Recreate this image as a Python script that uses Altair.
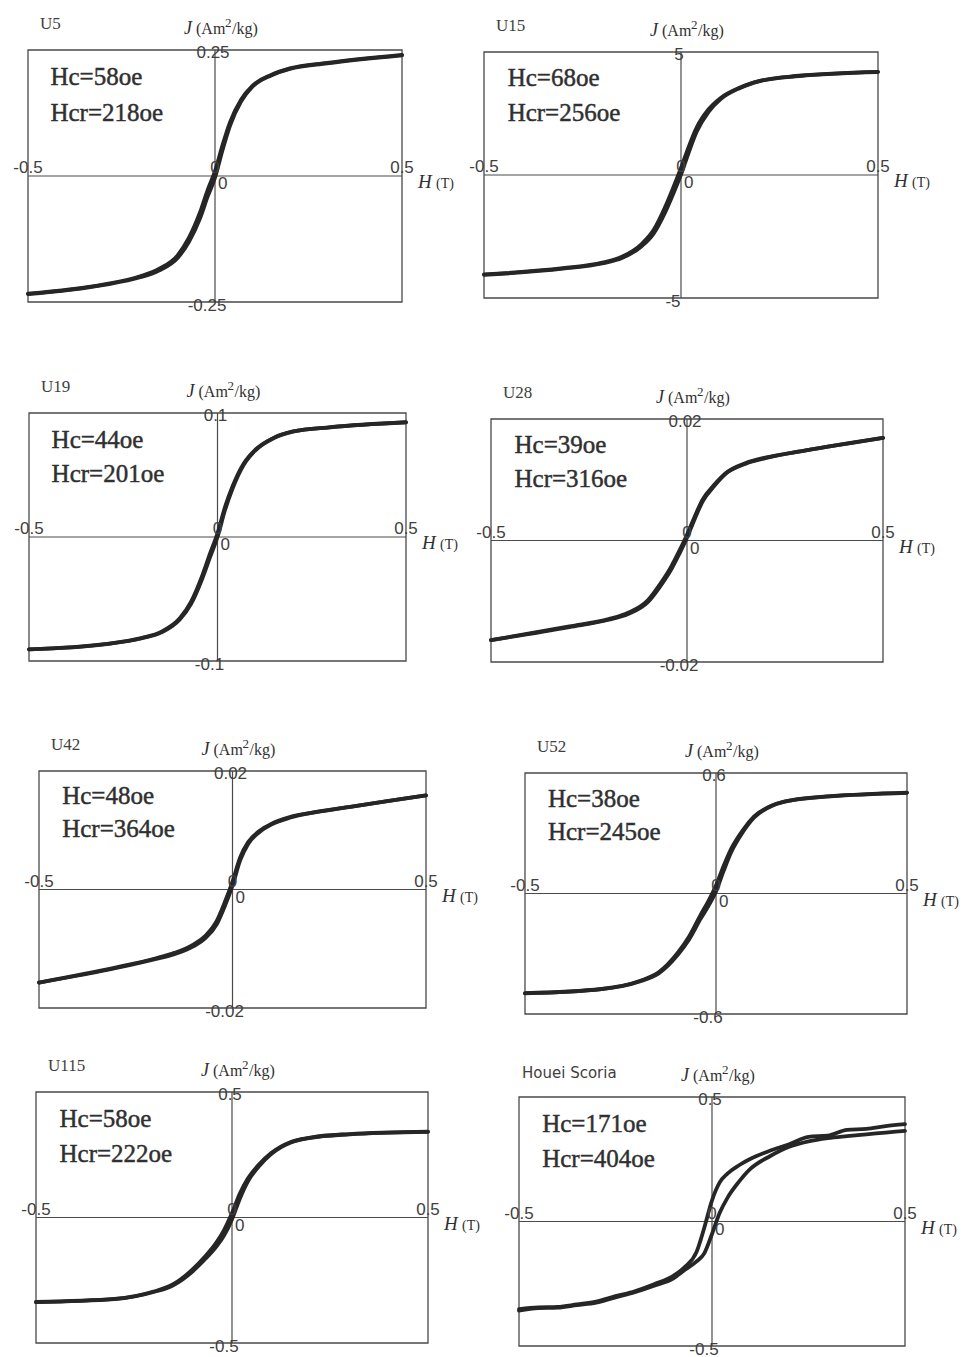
import altair as alt
import pandas as pd

# ---------------- data ----------------
H_GRID = [-0.5, -0.3, -0.2, -0.15, -0.1, -0.07, -0.04, -0.02, 0.0, 0.02, 0.04,
          0.07, 0.1, 0.15, 0.2, 0.3, 0.5]
H_HOUEI = [-0.5, -0.45, -0.4, -0.35, -0.3, -0.25, -0.2, -0.15, -0.1, -0.07, -0.04,
           -0.02, 0.0, 0.02, 0.04, 0.07, 0.1, 0.15, 0.2, 0.25, 0.3, 0.35, 0.4, 0.45, 0.5]

NAMES = ["U5", "U15", "U19", "U28", "U42", "U52", "U115", "Houei Scoria"]
J_MAX = [0.25, 5, 0.1, 0.02, 0.02, 0.6, 0.5, 0.5]
TOP_LABELS = ["0.25", "5", "0.1", "0.02", "0.02", "0.6", "0.5", "0.5"]
BOTTOM_LABELS = ["-0.25", "-5", "-0.1", "-0.02", "-0.02", "-0.6", "-0.5", "-0.5"]
HC = ["Hc=58oe", "Hc=68oe", "Hc=44oe", "Hc=39oe", "Hc=48oe", "Hc=38oe", "Hc=58oe", "Hc=171oe"]
HCR = ["Hcr=218oe", "Hcr=256oe", "Hcr=201oe", "Hcr=316oe", "Hcr=364oe", "Hcr=245oe",
       "Hcr=222oe", "Hcr=404oe"]

# upper (descending-field) and lower (ascending-field) branches, J in Am2/kg
U5_UP = [-0.2335, -0.2155, -0.199, -0.1845, -0.1575, -0.123, -0.072, -0.0285, 0.0095, 0.061,
         0.1065, 0.152, 0.179, 0.2005, 0.2135, 0.2245, 0.2405]
U5_LO = [-0.2345, -0.2165, -0.201, -0.1875, -0.1625, -0.131, -0.084, -0.0415, -0.0035, 0.051,
         0.0995, 0.148, 0.177, 0.1995, 0.2125, 0.2235, 0.2395]
U15_UP = [-4.04, -3.79, -3.565, -3.325, -2.805, -2.25, -1.29, -0.525, 0.285, 1.165, 1.935,
          2.67, 3.125, 3.56, 3.825, 4.035, 4.195]
U15_LO = [-4.06, -3.81, -3.595, -3.375, -2.895, -2.39, -1.51, -0.775, 0.015, 0.935, 1.765,
          2.57, 3.075, 3.54, 3.815, 4.025, 4.185]
U19_UP = [-0.09055, -0.0864, -0.08135, -0.0765, -0.0655, -0.0521, -0.03075, -0.0135, 0.0030,
          0.02425, 0.0409, 0.0595, 0.0703, 0.08015, 0.0851, 0.08855, 0.09255]
U19_LO = [-0.09065, -0.0866, -0.08165, -0.0771, -0.0665, -0.0539, -0.03325, -0.0165, 0.0000,
          0.02175, 0.0391, 0.0585, 0.0697, 0.07985, 0.0849, 0.08845, 0.09245]
U28_UP = [-0.0164, -0.01415, -0.01295, -0.0119, -0.00985, -0.0073, -0.00425, -0.00175, 0.00095,
          0.0040, 0.00675, 0.0092, 0.01115, 0.01275, 0.01365, 0.0148, 0.0169]
U28_LO = [-0.0164, -0.01425, -0.01305, -0.0121, -0.01015, -0.0077, -0.00475, -0.00225, 0.00045,
          0.0036, 0.00645, 0.0090, 0.01105, 0.01265, 0.01355, 0.0148, 0.0169]
U42_UP = [-0.0157, -0.01315, -0.01165, -0.0107, -0.00925, -0.0078, -0.0052, -0.00215, 0.00135,
          0.00545, 0.00795, 0.0099, 0.01105, 0.01225, 0.0129, 0.0139, 0.0159]
U42_LO = [-0.0157, -0.01325, -0.01175, -0.0109, -0.00955, -0.0082, -0.0058, -0.00285, 0.00065,
          0.00495, 0.00765, 0.0097, 0.01095, 0.01215, 0.0129, 0.0139, 0.0159]
U52_UP = [-0.4965, -0.4755, -0.436, -0.3925, -0.295, -0.2125, -0.105, -0.0375, 0.040, 0.1375,
          0.2235, 0.315, 0.3835, 0.441, 0.4655, 0.4845, 0.5025]
U52_LO = [-0.4975, -0.4765, -0.438, -0.3975, -0.305, -0.2275, -0.125, -0.0625, 0.010, 0.1125,
          0.2065, 0.305, 0.3785, 0.439, 0.4645, 0.4835, 0.5015]
U115_UP = [-0.3365, -0.3245, -0.295, -0.266, -0.206, -0.1575, -0.100, -0.049, 0.0175, 0.095,
           0.154, 0.2135, 0.257, 0.301, 0.3185, 0.3325, 0.3425]
U115_LO = [-0.3375, -0.3255, -0.297, -0.270, -0.214, -0.1685, -0.116, -0.071, -0.0075, 0.075,
           0.142, 0.2065, 0.253, 0.299, 0.3175, 0.3315, 0.3415]
HOUEI_UP = [-0.352, -0.345, -0.343, -0.333, -0.322, -0.300, -0.280, -0.252, -0.218, -0.182,
            -0.122, -0.025, 0.085, 0.157, 0.192, 0.226, 0.252, 0.284, 0.310, 0.340, 0.345,
            0.368, 0.372, 0.383, 0.391]
HOUEI_LO = [-0.358, -0.348, -0.346, -0.336, -0.326, -0.305, -0.284, -0.258, -0.228, -0.194,
            -0.160, -0.128, -0.050, 0.035, 0.095, 0.160, 0.212, 0.262, 0.300, 0.322, 0.335,
            0.343, 0.350, 0.357, 0.364]

CURVES = [
    (H_GRID, U5_UP, U5_LO), (H_GRID, U15_UP, U15_LO), (H_GRID, U19_UP, U19_LO),
    (H_GRID, U28_UP, U28_LO), (H_GRID, U42_UP, U42_LO), (H_GRID, U52_UP, U52_LO),
    (H_GRID, U115_UP, U115_LO), (H_HOUEI, HOUEI_UP, HOUEI_LO),
]

# ---------------- layout (pixels) ----------------
CELL_X = [0, 485]
CELL_W = 485
ROW_Y = [0, 350, 710, 1040]
ROW_H = [350, 360, 330, 317]
# frame box of each panel: left, top, right, bottom
BOXES = [(28, 50, 402, 302), (484, 52, 878, 298),
         (29, 413, 406, 661), (491, 419, 883, 662),
         (39, 771, 426, 1008), (525, 773, 907, 1014),
         (36, 1092, 428, 1343), (519, 1097, 905, 1346)]

INK = "#262626"
FRAME = "#4a4a4a"
LABEL = "#404040"
TEXT = "#303030"
SERIF = "Liberation Serif"
SANS = "Liberation Sans"


def panel(k):
    row, col = k // 2, k % 2
    L, T, R, B = BOXES[k]
    x0, y0 = CELL_X[col], ROW_Y[row]
    cw, ch = CELL_W, ROW_H[row]
    w, h = R - L, B - T
    jm = J_MAX[k]
    xdom = [-0.5 - (L - x0) / w, 0.5 + (x0 + cw - R) / w]
    ydom = [-jm - (y0 + ch - B) / h * 2 * jm, jm + (T - y0) / h * 2 * jm]
    xs = alt.Scale(domain=xdom, nice=False, zero=False)
    ys = alt.Scale(domain=ydom, nice=False, zero=False)

    def X(f):
        return alt.X(f, type="quantitative", scale=xs, axis=None)

    def Y(f):
        return alt.Y(f, type="quantitative", scale=ys, axis=None)

    box = alt.Chart(pd.DataFrame({"h0": [-0.5], "h1": [0.5], "j0": [-jm], "j1": [jm]})).mark_rect(
        fillOpacity=0, stroke=FRAME, strokeWidth=1.3
    ).encode(x=X("h0"), x2="h1", y=Y("j0"), y2="j1")

    hrule = alt.Chart(pd.DataFrame({"h0": [-0.5], "h1": [0.5], "j": [0.0]})).mark_rule(
        color=FRAME, strokeWidth=1.2
    ).encode(x=X("h0"), x2="h1", y=Y("j"))
    vrule = alt.Chart(pd.DataFrame({"h": [0.0], "j0": [-jm], "j1": [jm]})).mark_rule(
        color=FRAME, strokeWidth=1.2
    ).encode(x=X("h"), y=Y("j0"), y2="j1")

    hs, up, lo = CURVES[k]
    df = pd.DataFrame({
        "H": list(hs) + list(hs),
        "J": list(up) + list(lo),
        "branch": ["up"] * len(hs) + ["lo"] * len(hs),
    })
    curve = alt.Chart(df).mark_line(
        interpolate="monotone", strokeWidth=3.8, color=INK, strokeCap="round"
    ).encode(x=X("H"), y=Y("J"), detail="branch:N")

    def txt(hv, jv, t, **props):
        return alt.Chart(pd.DataFrame({"h": [hv], "j": [jv], "t": [t]})).mark_text(**props).encode(
            x=X("h"), y=Y("j"), text="t:N"
        )

    tick_style = dict(font=SANS, fontSize=17, color=LABEL)
    big = dict(font=SERIF, fontSize=25, color=TEXT, stroke=TEXT, strokeWidth=0.45)
    unit = dict(font=SERIF, color=TEXT, align="left", baseline="alphabetic")
    layers = [
        box, hrule, vrule, curve,
        txt(-0.5, 0, "-0.5", align="center", baseline="alphabetic", dy=-3, **tick_style),
        txt(0.5, 0, "0.5", align="center", baseline="alphabetic", dy=-3, **tick_style),
        txt(0, 0, "0", align="center", baseline="alphabetic", dy=-3, **tick_style),
        txt(0, 0, "0", align="left", baseline="top", dx=3, dy=0, **tick_style),
        txt(0, jm, TOP_LABELS[k], align="center", baseline="middle", dx=-2, dy=3, **tick_style),
        txt(0, -jm, BOTTOM_LABELS[k], align="center", baseline="middle", dx=-8, dy=4, **tick_style),
        txt(-0.44, 0.72 * jm, HC[k], align="left", baseline="alphabetic", **big),
        txt(-0.44, 0.44 * jm, HCR[k], align="left", baseline="alphabetic", **big),
        txt(0, jm, "J", dx=-31, dy=-16, fontSize=18, fontStyle="italic", **unit),
        txt(0, jm, "(Am", dx=-19, dy=-16, fontSize=16, **unit),
        txt(0, jm, "2", dx=10, dy=-23, fontSize=13, **unit),
        txt(0, jm, "/kg)", dx=17, dy=-16, fontSize=16, **unit),
        txt(0.5, 0, "H", dx=16, dy=12, fontSize=19, fontStyle="italic", **unit),
        txt(0.5, 0, "(T)", dx=34, dy=12, fontSize=14, **unit),
    ]
    if NAMES[k] == "Houei Scoria":
        layers.append(txt(-0.5, jm, NAMES[k], align="left", baseline="alphabetic", dx=3, dy=-19,
                          font="DejaVu Sans", fontSize=15, color=LABEL))
    else:
        layers.append(txt(-0.5, jm, NAMES[k], align="left", baseline="alphabetic", dx=12, dy=-21,
                          font=SERIF, fontSize=17, color=LABEL))
    return alt.layer(*layers).properties(width=cw, height=ch)


chart = alt.concat(*[panel(k) for k in range(8)], columns=2, spacing=0, bounds="flush").properties(
    padding=0, background="white"
).configure_view(strokeWidth=0)

chart.save("out.html", embed_options={"renderer": "svg", "actions": False})
